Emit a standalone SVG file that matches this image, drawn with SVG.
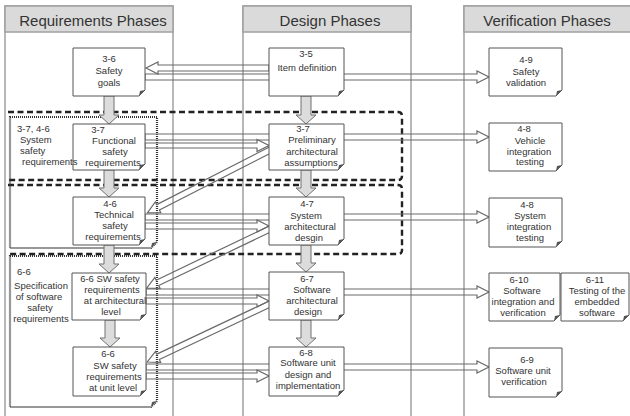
<svg xmlns="http://www.w3.org/2000/svg" width="630" height="416" viewBox="0 0 630 416">
<style>
text{font-family:"Liberation Sans",Arial,sans-serif;fill:#333;font-size:9.5px;text-anchor:middle}
.hdr{font-size:15px;fill:#333}
.col{fill:#fff;stroke:#a0a0a0;stroke-width:1.5}
.colh{fill:#dadada;stroke:#a0a0a0;stroke-width:1.5}
.box{fill:#fff;stroke:#555;stroke-width:1}
.fold{fill:#555}
.blk{fill:#dcdcdc;stroke:#707070;stroke-width:1}
.hol{fill:none;stroke:#6a6a6a;stroke-width:1.2}
.dash{fill:none;stroke:#222;stroke-width:2.4;stroke-dasharray:6 3.5}
.dot{fill:none;stroke:#333;stroke-width:2.2;stroke-dasharray:1 1}
.lft{text-anchor:start}
</style>
<rect width="630" height="416" fill="#fff"/>
<g id="columns">
<rect class="col" x="5" y="6" width="168" height="420"/>
<rect class="colh" x="5" y="6" width="168" height="26"/>
<text class="hdr" x="93" y="26">Requirements Phases</text>
<rect class="col" x="243" y="6" width="168" height="420"/>
<rect class="colh" x="243" y="6" width="168" height="26"/>
<text class="hdr" x="330" y="26">Design Phases</text>
<rect class="col" x="464" y="6" width="175" height="420"/>
<rect class="colh" x="464" y="6" width="175" height="26"/>
<text class="hdr" x="547" y="26">Verification Phases</text>
</g>
<g id="regions">
<path class="dash" d="M8 112 H398 Q402 112 402 116 V176 Q402 180 398 180 H8"/>
<path class="dash" d="M8 185 H398 Q402 185 402 189 V250 Q402 254 398 254 H8"/>
<path class="dot" d="M10 117 H157 V242 L151 248 H10 Z"/>
<path class="fold" d="M157 242 L151 248 L152 243 Z"/>
<path class="dot" d="M10 256 H157 V401 L151 407 H10 Z"/>
<path class="fold" d="M157 401 L151 407 L152 402 Z"/>
</g>
<g id="connectors">
<path class="hol" d="M269 65 H158 V62 L146 68 L158 74 V71 H269 Z"/>
<path class="hol" d="M145 74 H477 V71 L489 77 L477 83 V80 H145 Z"/>
<path class="hol" d="M145 134 H477 V131 L489 137 L477 143 V140 H145 Z"/>
<path class="hol" d="M145 143 H257 V139.5 L269 145.5 L257 151.5 V148 H145 Z"/>
<path class="hol" d="M145 214 H477 V211 L489 217 L477 223 V220 H145 Z"/>
<path class="hol" d="M145 223 H257 V220 L269 226 L257 232 V229 H145 Z"/>
<path class="hol" d="M146 289 H477 V286 L489 292 L477 298 V295 H146 Z"/>
<path class="hol" d="M146 298 H257 V295 L269 301 L257 307 V304 H146 Z"/>
<path class="hol" d="M146 364 H477 V361 L489 367 L477 373 V370 H146 Z"/>
<path class="hol" d="M146 373 H257 V370 L269 376 L257 382 V379 H146 Z"/>
<path class="hol" transform="translate(272 149) rotate(152.9)" d="M0 -3 H128 V-6 L140 0 L128 6 V3 H0 Z"/>
<path class="hol" transform="translate(272 228) rotate(154.4)" d="M0 -3 H127 V-6 L139 0 L127 6 V3 H0 Z"/>
<path class="hol" transform="translate(272 303) rotate(154.7)" d="M0 -3 H126 V-6 L138 0 L126 6 V3 H0 Z"/>
<path class="blk" d="M104 96 V115 H99 L109 124 L119 115 H114 V96 Z"/>
<path class="blk" d="M301 96 V115 H296 L306 124 L316 115 H311 V96 Z"/>
<path class="blk" d="M104 170 V188 H99 L109 197 L119 188 H114 V170 Z"/>
<path class="blk" d="M301 170 V188 H296 L306 197 L316 188 H311 V170 Z"/>
<path class="blk" d="M104 245 V264 H99 L109 273 L119 264 H114 V245 Z"/>
<path class="blk" d="M301 245 V263 H296 L306 272 L316 263 H311 V245 Z"/>
<path class="blk" d="M105 320 V338 H100 L110 347 L120 338 H115 V320 Z"/>
<path class="blk" d="M301 320 V338 H296 L306 347 L316 338 H311 V320 Z"/>
</g>
<g id="safety-goals">
<path class="box" d="M73 48 H145 V90 L139 96 H73 Z"/><path class="fold" d="M145 90 L139 96 L140 91 Z"/>
<text x="109" y="62">3-6</text><text x="109" y="74">Safety</text><text x="109" y="86">goals</text>
</g>
<g id="item-definition">
<path class="box" d="M269 48 H344 V90 L338 96 H269 Z"/><path class="fold" d="M344 90 L338 96 L339 91 Z"/>
<text x="306" y="57">3-5</text><text x="307" y="71">Item definition</text>
</g>
<g id="safety-validation">
<path class="box" d="M489 48 H562 V90 L556 96 H489 Z"/><path class="fold" d="M562 90 L556 96 L557 91 Z"/>
<text x="526" y="63">4-9</text><text x="526" y="75">Safety</text><text x="526" y="86">validation</text>
</g>
<g id="functional-safety">
<path class="box" d="M73 124 H145 V164 L139 170 H73 Z"/><path class="fold" d="M145 164 L139 170 L140 165 Z"/>
<text x="98" y="133">3-7</text><text x="114" y="144">Functional</text><text x="115" y="155">safety</text><text x="113" y="166">requirements</text>
</g>
<g id="preliminary-arch">
<path class="box" d="M269 124 H344 V164 L338 170 H269 Z"/><path class="fold" d="M344 164 L338 170 L339 165 Z"/>
<text x="303" y="132">3-7</text><text x="312" y="143">Preliminary</text><text x="312" y="155">architectural</text><text x="311" y="166">assumptions</text>
</g>
<g id="vehicle-testing">
<path class="box" d="M489 123 H562 V165 L556 171 H489 Z"/><path class="fold" d="M562 165 L556 171 L557 166 Z"/>
<text x="524" y="132">4-8</text><text x="530" y="144">Vehicle</text><text x="529" y="155">integration</text><text x="530" y="165">testing</text>
</g>
<g id="technical-safety">
<path class="box" d="M73 197 H145 V239 L139 245 H73 Z"/><path class="fold" d="M145 239 L139 245 L140 240 Z"/>
<text x="110" y="207">4-6</text><text x="114" y="218">Technical</text><text x="115" y="229">safety</text><text x="113" y="240">requirements</text>
</g>
<g id="system-arch">
<path class="box" d="M269 197 H344 V239 L338 245 H269 Z"/><path class="fold" d="M344 239 L338 245 L339 240 Z"/>
<text x="307" y="207">4-7</text><text x="306" y="219">System</text><text x="310" y="230">architectural</text><text x="309" y="241">desgin</text>
</g>
<g id="system-testing">
<path class="box" d="M489 198 H562 V241 L556 247 H489 Z"/><path class="fold" d="M562 241 L556 247 L557 242 Z"/>
<text x="527" y="208">4-8</text><text x="530" y="219">System</text><text x="529" y="230">integration</text><text x="530" y="241">testing</text>
</g>
<g id="sw-safety-arch">
<path class="box" d="M72 273 H146 V314 L140 320 H72 Z"/><path class="fold" d="M146 314 L140 320 L141 315 Z"/>
<text x="110" y="282">6-6 SW safety</text><text x="112" y="293">requirements</text><text x="115" y="304">at architectural</text><text x="111" y="315">level</text>
</g>
<g id="software-arch">
<path class="box" d="M269 272 H344 V314 L338 320 H269 Z"/><path class="fold" d="M344 314 L338 320 L339 315 Z"/>
<text x="307" y="282">6-7</text><text x="312" y="293">Software</text><text x="312" y="304">architectural</text><text x="308" y="315">design</text>
</g>
<g id="sw-integration">
<path class="box" d="M489 273 H560 V315 L554 321 H489 Z"/><path class="fold" d="M560 315 L554 321 L555 316 Z"/>
<text x="519" y="283">6-10</text><text x="522" y="294">Software</text><text x="523" y="305">integration and</text><text x="523" y="316">verification</text>
</g>
<g id="embedded-testing">
<path class="box" d="M561 273 H629 V315 L623 321 H561 Z"/><path class="fold" d="M629 315 L623 321 L624 316 Z"/>
<text x="595" y="283">6-11</text><text x="597" y="294">Testing of the</text><text x="597" y="305">embedded</text><text x="597" y="316">software</text>
</g>
<g id="sw-safety-unit">
<path class="box" d="M73 347 H146 V390 L140 396 H73 Z"/><path class="fold" d="M146 390 L140 396 L141 391 Z"/>
<text x="108" y="357">6-6</text><text x="115" y="369">SW safety</text><text x="114" y="380">requirements</text><text x="113" y="391">at unit level</text>
</g>
<g id="unit-design">
<path class="box" d="M269 347 H344 V390 L338 396 H269 Z"/><path class="fold" d="M344 390 L338 396 L339 391 Z"/>
<text x="306" y="356">6-8</text><text x="308" y="366">Software unit</text><text x="308" y="378">design and</text><text x="308" y="389">implementation</text>
</g>
<g id="unit-verification">
<path class="box" d="M489 348 H562 V391 L556 397 H489 Z"/><path class="fold" d="M562 391 L556 397 L557 392 Z"/>
<text x="527" y="363">6-9</text><text x="523" y="374">Software unit</text><text x="524" y="385">verification</text>
</g>
<g id="region-labels">
<text class="lft" x="17" y="132">3-7, 4-6</text>
<text class="lft" x="20" y="143">System</text>
<text class="lft" x="20" y="154">safety</text>
<text class="lft" x="22" y="165">requirements</text>
<text class="lft" x="17" y="275">6-6</text>
<text x="41" y="289">Specification</text>
<text x="39" y="300">of software</text>
<text x="40" y="311">safety</text>
<text x="41" y="322">requirements</text>
</g>
</svg>
